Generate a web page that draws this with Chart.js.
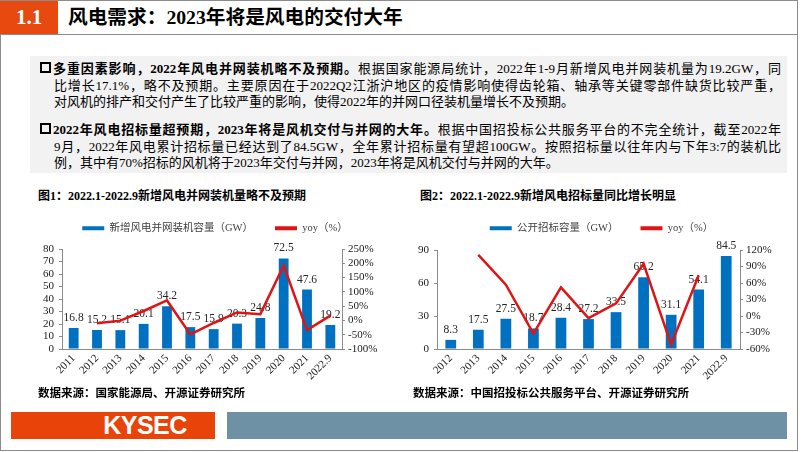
<!DOCTYPE html>
<html>
<head>
<meta charset="utf-8">
<script src="https://cdn.jsdelivr.net/npm/chart.js@4"></script>
<style>
body{margin:0;width:802px;height:452px;position:relative;overflow:hidden;background:#fff;
  font-family:"Liberation Serif","Noto Sans CJK SC",serif;color:#000;}
.abs{position:absolute;}
.frame{left:0;top:0;width:798px;height:451px;border:1px solid #8c8c8c;box-sizing:border-box;}
.hnum{left:0;top:1px;width:58px;height:33px;background:#e8490f;color:#fff;font-weight:bold;font-size:21px;line-height:33px;text-align:center;}
.hline{left:0;top:34px;width:798px;height:1px;background:#8c8c8c;}
.htitle{left:68px;top:1px;height:33px;line-height:33px;font-weight:bold;font-size:19.7px;}
.tbox{left:30px;top:56px;width:757px;height:117px;background:#f2f2f2;}
.ln{font-size:13px;line-height:17px;height:17px;overflow:hidden;}
.j{text-align:justify;text-align-last:justify;}
.chk{width:7px;height:7px;border:2px solid #000;}
.ftitle{font-weight:bold;font-size:12px;line-height:16px;}
.src{font-weight:bold;font-size:11.5px;line-height:16px;}
.kys{left:11px;top:412px;width:204px;height:27px;background:#e8440a;color:#fff;font-family:"Liberation Sans","DejaVu Sans",sans-serif;font-weight:bold;font-size:25px;line-height:27px;text-align:center;letter-spacing:-0.5px;}
.kys span{position:relative;left:32px;}
.fbar{left:227px;top:412px;width:560px;height:27px;background:#6f91a5;}
canvas{position:absolute;}
</style>
</head>
<body>
<div class="abs frame"></div>
<div class="abs hnum">1.1</div>
<div class="abs hline"></div>
<div class="abs htitle">风电需求：2023年将是风电的交付大年</div>

<div class="abs tbox"></div>
<div class="abs chk" style="left:40px;top:62px;"></div>
<div class="abs ln j" style="left:53px;top:60px;width:728px;"><b>多重因素影响，2022年风电并网装机略不及预期。</b>根据国家能源局统计，2022年1-9月新增风电并网装机量为19.2GW，同</div>
<div class="abs ln j" style="left:54px;top:77px;width:727px;">比增长17.1%，略不及预期。主要原因在于2022Q2江浙沪地区的疫情影响使得齿轮箱、轴承等关键零部件缺货比较严重，</div>
<div class="abs ln" style="left:54px;top:93px;width:727px;">对风机的排产和交付产生了比较严重的影响，使得2022年的并网口径装机量增长不及预期。</div>

<div class="abs chk" style="left:40px;top:123px;"></div>
<div class="abs ln j" style="left:53px;top:121px;width:728px;"><b>2022年风电招标量超预期，2023年将是风机交付与并网的大年。</b>根据中国招投标公共服务平台的不完全统计，截至2022年</div>
<div class="abs ln j" style="left:54px;top:138px;width:727px;">9月，2022年风电累计招标量已经达到了84.5GW，全年累计招标量有望超100GW。按照招标量以往年内与下年3:7的装机比</div>
<div class="abs ln" style="left:54px;top:154px;width:727px;">例，其中有70%招标的风机将于2023年交付与并网，2023年将是风机交付与并网的大年。</div>

<div class="abs ftitle" style="left:38px;top:188px;">图1：2022.1-2022.9新增风电并网装机量略不及预期</div>
<div class="abs ftitle" style="left:420px;top:188px;">图2：2022.1-2022.9新增风电招标量同比增长明显</div>

<canvas id="c1" width="370" height="189" style="left:30px;top:201px;"></canvas>
<canvas id="c2" width="393" height="189" style="left:405px;top:201px;"></canvas>

<div class="abs src" style="left:38px;top:385px;">数据来源：国家能源局、开源证券研究所</div>
<div class="abs src" style="left:413px;top:385px;">数据来源：中国招投标公共服务平台、开源证券研究所</div>

<div class="abs kys"><span>KYSEC</span></div>
<div class="abs fbar"></div>

<script>
// figure 1: grid-connected capacity
const years1 = ['2011','2012','2013','2014','2015','2016','2017','2018','2019','2020','2021','2022.9'];
const capacity1 = [16.8, 15.2, 15.1, 20.1, 34.2, 17.5, 15.9, 20.3, 24.8, 72.5, 47.6, 19.2];
const yoy1 = [null, -9.5, -0.7, 33, 70, -49, -9, 28, 22, 192, -34, 17];

// figure 2: public tender capacity
const years2 = ['2012','2013','2014','2015','2016','2017','2018','2019','2020','2021','2022.9'];
const tender2 = [8.3, 17.5, 27.5, 18.7, 28.4, 27.2, 33.5, 65.2, 31.1, 54.1, 84.5];
const yoy2 = [null, 111, 57, -32, 52, -4, 23, 95, -52, 74, null];

const serif = '"Liberation Serif", "Noto Sans CJK SC", serif';
const BLUE = '#0070c0';
const RED = '#e01414';

const barLabels = {
  id: 'barLabels',
  afterDatasetDraw(chart, args) {
    if (args.index !== 0) return;
    const ctx = chart.ctx;
    const vals = chart.data.datasets[0].data;
    ctx.save();
    ctx.font = '11.5px ' + serif;
    ctx.fillStyle = '#262626';
    ctx.textAlign = 'center';
    ctx.textBaseline = 'middle';
    args.meta.data.forEach((bar, i) => {
      ctx.fillText(vals[i].toFixed(1), bar.x, bar.y - 10);
    });
    ctx.restore();
  }
};

function makeChart(id, labels, bars, line, barName, left, right, yMax, yStep, y1Min, y1Max, y1Step, barPct, legendH, xH) {
  const fitLegend = {
    id: 'fitLegend',
    beforeInit(chart) {
      const fit = chart.legend.fit;
      chart.legend.fit = function () {
        fit.bind(chart.legend)();
        this.height = legendH;
      };
    }
  };
  return new Chart(document.getElementById(id), {
    type: 'bar',
    data: {
      labels: labels,
      datasets: [
        { type: 'bar', label: barName, data: bars, backgroundColor: BLUE, borderWidth: 0,
          barPercentage: barPct, categoryPercentage: 1, yAxisID: 'y', order: 1 },
        { type: 'line', label: 'yoy（%）', data: line, borderColor: RED, backgroundColor: RED,
          borderWidth: 2.5, pointRadius: 0, tension: 0, yAxisID: 'y1', order: 0 }
      ]
    },
    options: {
      responsive: false,
      animation: false,
      layout: { padding: 0 },
      plugins: {
        tooltip: { enabled: false },
        legend: {
          position: 'top',
          labels: {
            boxWidth: 22, boxHeight: 4, padding: 22,
            color: '#404040',
            font: { size: 10.5, family: serif },
            sort: (a, b) => a.datasetIndex - b.datasetIndex,
            generateLabels: (chart) => Chart.defaults.plugins.legend.labels.generateLabels(chart)
              .map(l => Object.assign(l, { lineWidth: 0 }))
          }
        }
      },
      scales: {
        x: {
          grid: { display: false, drawTicks: false },
          border: { display: true, color: '#8c8c8c' },
          ticks: { minRotation: 45, maxRotation: 45, autoSkip: false, padding: 3, color: '#1a1a1a', font: { size: 11, family: serif } },
          afterFit: (s) => { s.height = xH; }
        },
        y: {
          position: 'left', min: 0, max: yMax,
          grid: { drawOnChartArea: false, tickLength: 3, color: '#8c8c8c' },
          border: { display: true, color: '#8c8c8c' },
          ticks: { stepSize: yStep, autoSkip: false, padding: 5, color: '#1a1a1a', font: { size: 11, family: serif } },
          afterFit: (s) => { s.width = left; }
        },
        y1: {
          position: 'right', min: y1Min, max: y1Max,
          grid: { drawOnChartArea: false, tickLength: 3, color: '#8c8c8c' },
          border: { display: true, color: '#8c8c8c' },
          ticks: { stepSize: y1Step, autoSkip: false, padding: 3, color: '#1a1a1a', font: { size: 11, family: serif },
            callback: (v) => v + '%' },
          afterFit: (s) => { s.width = right; }
        }
      }
    },
    plugins: [fitLegend, barLabels]
  });
}

makeChart('c1', years1, capacity1, yoy1, '新增风电并网装机容量（GW）', 32, 58, 80, 10, -100, 250, 50, 0.42, 48, 41);
makeChart('c2', years2, tender2, yoy2, '公开招标容量（GW）', 32, 58, 90, 30, -60, 120, 30, 0.39, 49, 41);
</script>
</body>
</html>
